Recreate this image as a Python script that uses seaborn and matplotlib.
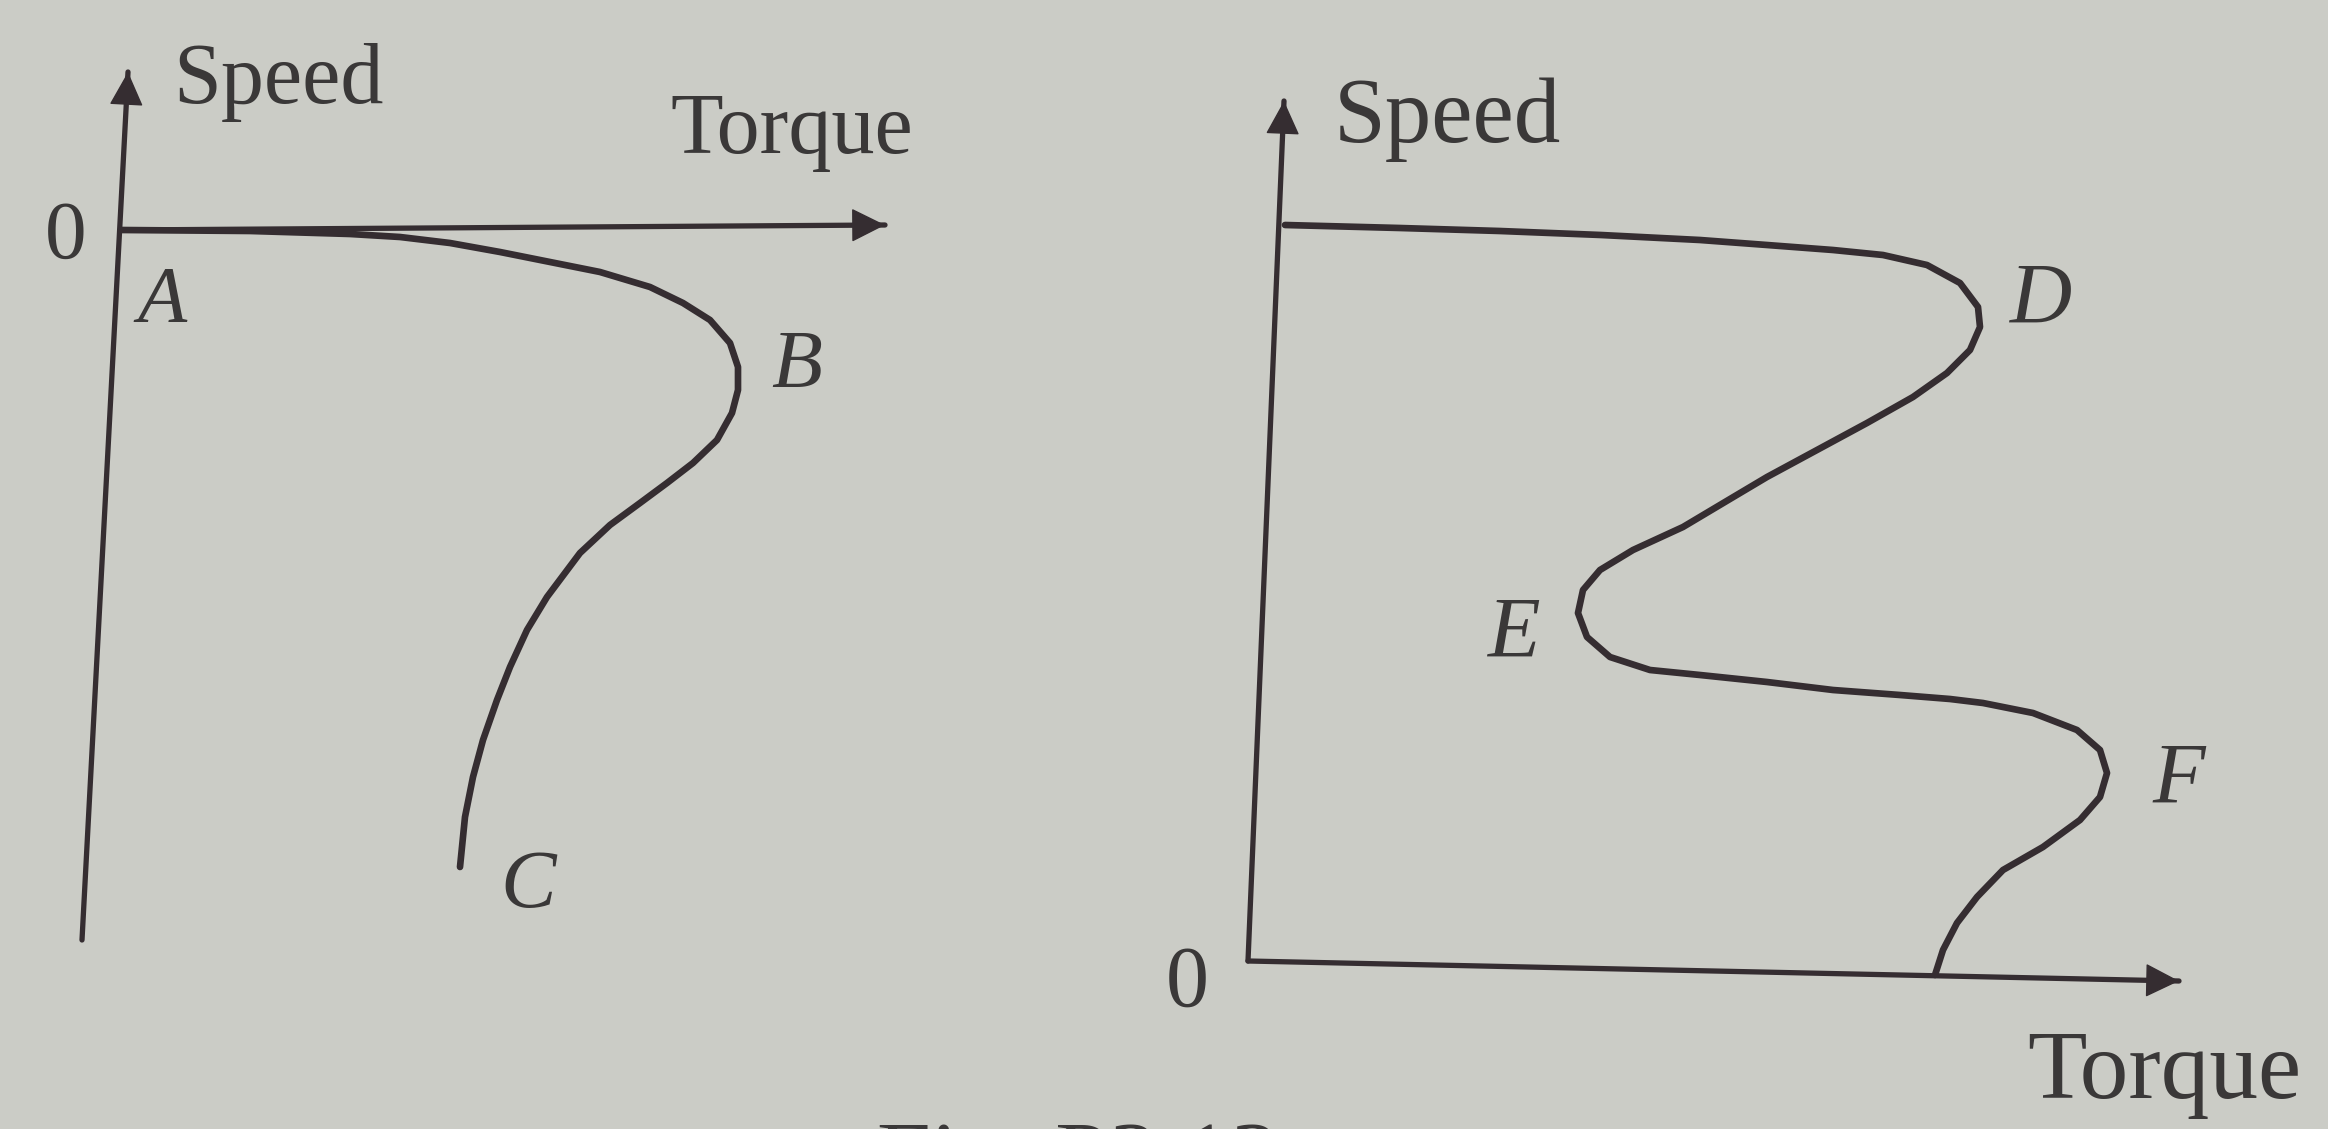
import numpy as np
import pandas as pd
import matplotlib
matplotlib.use('Agg')
import matplotlib.pyplot as plt
import seaborn as sns

# canvas units = pixels of the scanned figure (2328 x 1129, y grows downwards)
W, H = 2328, 1129

# left sketch: torque-speed curve A -> B -> C
left_x = [121, 250, 350, 400, 450, 500, 550, 600, 650, 683, 710, 730, 738, 738, 732, 717,
          693, 667, 640, 610, 580, 547, 527, 510, 497, 483, 473, 465, 460]
left_y = [230, 231, 234, 237, 243, 252, 262, 272, 287, 303, 320, 343, 367, 390, 413, 440,
          463, 483, 503, 525, 553, 597, 630, 667, 700, 740, 777, 817, 867]

# right sketch: curve through D, E, F
right_x = [1285, 1400, 1500, 1601, 1700, 1767, 1833, 1883, 1927, 1960, 1978, 1980, 1970, 1947,
           1913, 1867, 1817, 1767, 1730, 1683, 1633, 1600, 1583, 1578, 1587, 1610, 1650, 1700,
           1767, 1833, 1900, 1950, 1983, 2033, 2077, 2100, 2107, 2100, 2080, 2043, 2003, 1977,
           1957, 1943, 1935]
right_y = [225, 228, 231, 235, 240, 245, 250, 255, 265, 283, 307, 327, 350, 373,
           397, 423, 450, 477, 499, 527, 550, 570, 590, 613, 637, 657, 670, 675,
           682, 690, 695, 699, 703, 713, 730, 750, 773, 797, 820, 847, 870, 897,
           923, 950, 975]

# axes of both sketches (start, arrow tip)
left_speed_axis = [(82, 940), (128, 72)]
left_torque_axis = [(121, 230), (885, 225)]
right_speed_axis = [(1248, 961), (1284, 101)]
right_torque_axis = [(1248, 961), (2179, 981)]

# labels: text, x, y, size, italic
labels = [
    ('Speed', 173, 82, 62, False),
    ('Torque', 670, 132, 62, False),
    ('0', 45, 238, 60, False),
    ('A', 137, 302, 58, True),
    ('B', 771, 367, 60, True),
    ('C', 500, 887, 60, True),
    ('Speed', 1334, 120, 67, False),
    ('Torque', 2027, 1075, 70, False),
    ('0', 1166, 985, 62, False),
    ('D', 2010, 302, 62, True),
    ('E', 1487, 636, 62, True),
    ('F', 2152, 782, 62, True),
]

BG = '#cbccc6'
INK = '#352d31'
TXT = '#3a3838'

sns.set_theme(style='white', rc={'axes.facecolor': BG, 'figure.facecolor': BG})
plt.rcParams['font.family'] = ['Liberation Serif', 'DejaVu Serif']

fig = plt.figure(figsize=(W / 100, H / 100), dpi=100)
ax = fig.add_axes([0, 0, 1, 1])

# coordinate axes with arrow heads
for (x0, y0), (x1, y1) in [left_speed_axis, left_torque_axis, right_speed_axis, right_torque_axis]:
    ax.plot([x0, x1], [y0, y1], color=INK, lw=3.8, solid_capstyle='butt')
    ax.annotate('', xy=(x1, y1), xytext=(x0 + (x1 - x0) * 0.93, y0 + (y1 - y0) * 0.93),
                arrowprops=dict(arrowstyle='-|>', color=INK, lw=1, mutation_scale=55,
                                shrinkA=0, shrinkB=0))

curves = pd.concat([
    pd.DataFrame({'x': left_x, 'y': left_y, 'curve': 'ABC'}),
    pd.DataFrame({'x': right_x, 'y': right_y, 'curve': 'DEF'}),
])
sns.lineplot(data=curves, x='x', y='y', units='curve', estimator=None, sort=False,
             color=INK, lw=4.8, ax=ax, legend=False)
for line in ax.lines:
    line.set_solid_joinstyle('round')
    line.set_solid_capstyle('round')

ax.set_xlim(0, W)
ax.set_ylim(H, 0)
ax.axis('off')

for txt, x, y, size, italic in labels:
    ax.text(x, y, txt, fontsize=size, color=TXT, ha='left', va='center',
            style='italic' if italic else 'normal')

# caption, mostly cut off by the bottom edge of the scan
ax.text(877, 1122, 'Fig. P3.13', fontsize=70, color=TXT, ha='left', va='top', clip_on=False)

fig.savefig('out.png', dpi=100, facecolor=BG)
